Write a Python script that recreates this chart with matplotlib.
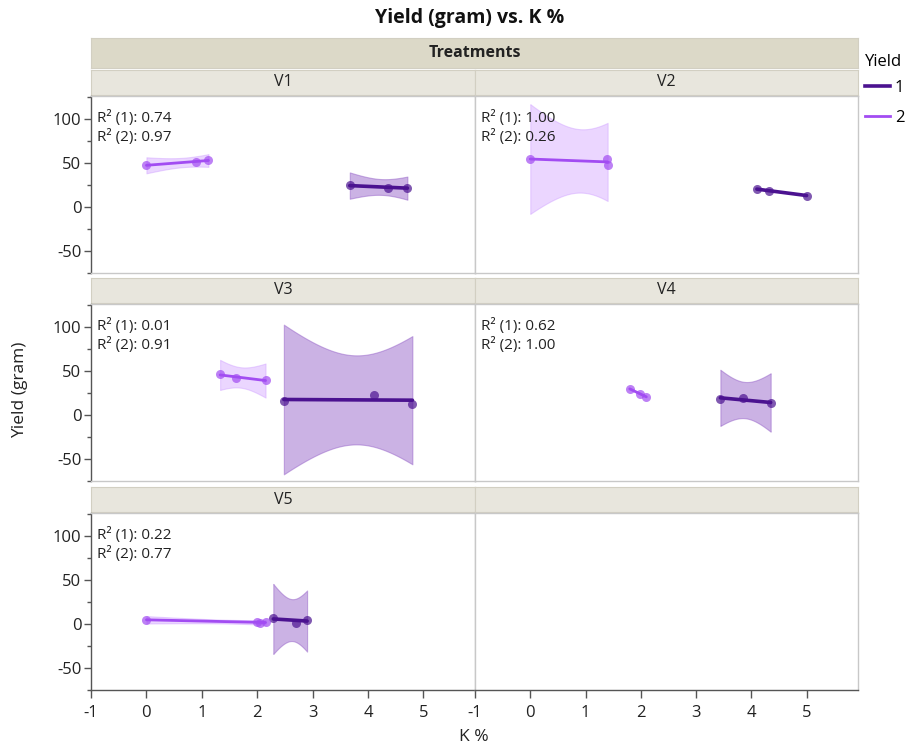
import numpy as np
import matplotlib
matplotlib.use("Agg")
import matplotlib.pyplot as plt
from matplotlib.lines import Line2D
from matplotlib.ticker import FixedLocator

plt.rcParams["font.family"] = ["Open Sans", "DejaVu Sans"]
plt.rcParams["axes.unicode_minus"] = False

treatments = ["V1", "V2", "V3", "V4", "V5"]

# K % and yield (gram) per treatment, Yield group 1
k_1 = [[3.67, 4.36, 4.71], [4.10, 4.32, 5.00], [2.48, 4.10, 4.80],
       [3.44, 3.85, 4.35], [2.29, 2.70, 2.90]]
y_1 = [[24.84, 21.60, 22.26], [20.5, 18.7, 13.2], [16.14, 22.74, 13.16],
       [18.43, 19.60, 13.36], [6.75, 1.68, 5.25]]
# Yield group 2
k_2 = [[0.00, 0.90, 1.12], [0.00, 1.38, 1.40], [1.33, 1.61, 2.15],
       [1.80, 1.99, 2.10], [0.00, 2.00, 2.05, 2.15]]
y_2 = [[47.71, 51.45, 53.54], [54.7, 55.0, 48.0], [46.6, 42.3, 39.8],
       [29.9, 24.1, 20.8], [4.9, 2.79, 0.85, 2.20]]

r2_1 = ["0.74", "1.00", "0.01", "0.62", "0.22"]
r2_2 = ["0.97", "0.26", "0.91", "1.00", "0.77"]

x_ticks = [-1, 0, 1, 2, 3, 4, 5]
y_ticks = [-50, 0, 50, 100]

c1, c2 = "#4b1290", "#a24cf2"
band1, band2 = "#8d55c4", "#c68cff"

# t(0.975) by residual degrees of freedom
T_975 = {1: 12.706, 2: 4.303, 3: 3.182, 4: 2.776}


def fit_band(x, y):
    x = np.asarray(x, float)
    y = np.asarray(y, float)
    n = len(x)
    slope, icpt = np.polyfit(x, y, 1)
    xs = np.linspace(x.min(), x.max(), 80)
    fit = icpt + slope * xs
    resid = y - (icpt + slope * x)
    s = np.sqrt(np.sum(resid ** 2) / (n - 2))
    sxx = np.sum((x - x.mean()) ** 2)
    half = T_975[n - 2] * s * np.sqrt(1.0 / n + (xs - x.mean()) ** 2 / sxx)
    return xs, fit, half


W, H = 914, 747
fig = plt.figure(figsize=(W / 100, H / 100), dpi=100)


def px_axes(x0, y0, x1, y1):
    return fig.add_axes([x0 / W, 1 - y1 / H, (x1 - x0) / W, (y1 - y0) / H])


def header(x0, y0, x1, y1, label, face, bold=False):
    hx = px_axes(x0, y0, x1, y1)
    hx.set_facecolor(face)
    hx.set_xticks([])
    hx.set_yticks([])
    for sp in hx.spines.values():
        sp.set_color("#d2cfc2")
    hx.text(0.5, 0.5, label, ha="center", va="center", fontsize=11.5,
            fontweight="bold" if bold else "normal", color="#222222",
            transform=hx.transAxes)
    return hx


col_x = [(91, 475), (475, 858)]
row_top = [96, 304, 513]
panel_h = 177
axis_col = "#555555"
edge_col = "#c8c8c8"

header(91, 38, 858, 68, "Treatments", "#dcd9c8", bold=True)

for i in range(6):
    r, c = divmod(i, 2)
    x0, x1 = col_x[c]
    top = row_top[r]
    header(x0, top - 26, x1, top - 1, treatments[i] if i < 5 else "", "#e8e6dd")
    ax = px_axes(x0, top, x1, top + panel_h)
    ax.set_xlim(-1, 5.93)
    ax.set_ylim(-75, 126.5)
    for sp in ax.spines.values():
        sp.set_color(edge_col)
        sp.set_linewidth(1)

    if c == 0:
        ax.spines["left"].set_color(axis_col)
        ax.yaxis.set_major_locator(FixedLocator(y_ticks))
        ax.yaxis.set_minor_locator(FixedLocator([-75, -25, 25, 75, 125]))
        ax.tick_params(axis="y", which="major", length=5, width=1, color=axis_col,
                       labelsize=12, pad=2, labelcolor="#222222")
        ax.tick_params(axis="y", which="minor", length=3, width=1, color=axis_col)
    else:
        ax.set_yticks([])

    if r == 2:
        ax.spines["bottom"].set_color(axis_col)
        ax.set_xticks(x_ticks)
        ax.tick_params(axis="x", length=6, width=1, color=axis_col,
                       labelsize=12, pad=5, labelcolor="#222222")
    else:
        ax.set_xticks([])

    if i >= 5:
        continue

    for kx, ky, col, bcol, lw, alpha in [(k_1[i], y_1[i], c1, band1, 2.6, 0.45),
                                         (k_2[i], y_2[i], c2, band2, 2.0, 0.35)]:
        xs, fit, half = fit_band(kx, ky)
        ax.fill_between(xs, fit - half, fit + half, color=bcol, alpha=alpha,
                        lw=0.8, edgecolor=bcol, zorder=1)
        ax.plot(xs, fit, color=col, lw=lw, zorder=3, solid_capstyle="round")
        ax.plot(kx, ky, "o", color=col, ms=6.5, alpha=0.7, mec="none", zorder=4)

    ax.text(0.016, 0.876, f"R² (1): {r2_1[i]}", transform=ax.transAxes,
            ha="left", va="center", fontsize=11, color="#222222")
    ax.text(0.016, 0.766, f"R² (2): {r2_2[i]}", transform=ax.transAxes,
            ha="left", va="center", fontsize=11, color="#222222")

fig.text(470 / W, 1 - 18 / H, "Yield (gram) vs. K %", ha="center", va="center",
         fontsize=14, fontweight="bold", color="#111111")
fig.text(20 / W, 1 - 390 / H, "Yield (gram)", rotation=90, ha="center",
         va="center", fontsize=12.5, color="#222222")
fig.text(474 / W, 1 - 737 / H, "K %", ha="center", va="center", fontsize=12.5,
         color="#222222")

handles = [Line2D([], [], color=c1, lw=2.6), Line2D([], [], color=c2, lw=2.0)]
leg = fig.legend(handles, ["1", "2"], title="Yield", loc="upper left",
                 bbox_to_anchor=(865 / W, 1 - 50 / H), frameon=False,
                 fontsize=12, title_fontsize=12, handlelength=1.5,
                 handletextpad=0.3, labelspacing=0.85, borderpad=0,
                 borderaxespad=0, alignment="left")
leg.get_title().set_position((0, -4))

fig.savefig("out.png", dpi=100)
